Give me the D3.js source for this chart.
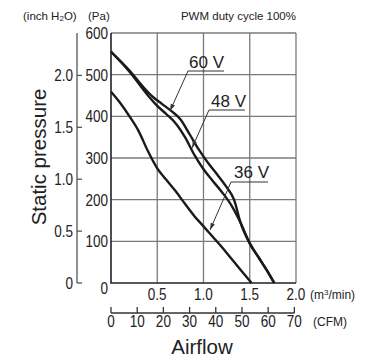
<!DOCTYPE html>
<html>
<head>
<meta charset="utf-8">
<script src="https://cdn.jsdelivr.net/npm/d3@7"></script>
<style>
  body { margin: 0; background: #fff; }
  svg text { fill: #222; }
</style>
</head>
<body>
<div class="board"></div>
<script>
//Data: [m3/min, Pa]
var curve60 = [[0,555],[0.2,510],[0.35,470],[0.45,447],[0.55,430],[0.65,413],[0.75,393],[0.85,357],[0.95,320],[1.05,288],[1.15,260],[1.25,230],[1.33,200],[1.4,145],[1.5,95],[1.6,60],[1.7,25],[1.765,0]];
var curve48 = [[0,555],[0.2,507],[0.4,450],[0.5,425],[0.6,405],[0.7,383],[0.8,350],[0.9,308],[1.0,273],[1.1,245],[1.2,218],[1.3,187],[1.4,145],[1.5,95],[1.6,60],[1.7,25],[1.765,0]];
var curve36 = [[0,459],[0.1,432],[0.2,400],[0.3,364],[0.4,316],[0.5,275],[0.6,247],[0.7,220],[0.8,190],[0.9,161],[1.0,136],[1.1,111],[1.2,86],[1.3,59],[1.4,32],[1.52,0]];
var voltages = ['60 V', '48 V', '36 V'];

//Tick labels
var paTicks = [100, 200, 300, 400, 500, 600];
var inchTicks = [0, 0.5, 1.0, 1.5, 2.0];
var flowTicks = [0.5, 1.0, 1.5, 2.0];
var cfmTicks = [0, 10, 20, 30, 40, 50, 60, 70];

var PA_PER_INCH = 249.089;
var CFM_PER_M3 = 35.3147;

var sans = '"Liberation Sans", Arial, sans-serif';
var squeeze = 0.82; //condensed look for tick numbers

var svg = d3.select('.board').append('svg')
            .attr('width', 369)
            .attr('height', 363);

var x = d3.scaleLinear().domain([0, 2]).range([111, 296]);
var y = d3.scaleLinear().domain([0, 600]).range([283, 33]);

//condensed number label
var num = function(sel, fx, fy, fmt, anchor) {
  return sel.append('text')
            .attr('transform', d => 'translate(' + fx(d) + ',' + fy(d) + ') scale(' + squeeze + ',1)')
            .attr('text-anchor', anchor)
            .style('font-family', sans).style('font-size', '16.5px')
            .text(fmt);
};

//Grid
svg.append('g').selectAll('line')
   .data(paTicks)
   .enter().append('line')
   .attr('x1', x(0)).attr('x2', x(2))
   .attr('y1', d => y(d)).attr('y2', d => y(d))
   .attr('stroke', '#7a7a7a').attr('stroke-width', 1.3);
svg.append('g').selectAll('line')
   .data(flowTicks)
   .enter().append('line')
   .attr('x1', d => x(d)).attr('x2', d => x(d))
   .attr('y1', y(0)).attr('y2', y(600))
   .attr('stroke', '#7a7a7a').attr('stroke-width', 1.3);

//Main axes lines (left + bottom)
svg.append('path')
   .attr('d', 'M' + x(0) + ',' + y(600) + 'V' + y(0) + 'H' + x(2))
   .attr('fill', 'none').attr('stroke', '#222').attr('stroke-width', 1.6);

//Pa labels
num(svg.append('g').selectAll('text').data(paTicks).enter(),
    d => x(0) - 3, d => y(d) + 6, d => d, 'end');
num(svg.append('g').selectAll('text').data([0]).enter(),
    d => x(0) - 3, d => y(0) + 11, d => d, 'end');

//Inch H2O axis
var yIn = d => y(d * PA_PER_INCH);
svg.append('line')
   .attr('x1', 77).attr('x2', 77)
   .attr('y1', y(0)).attr('y2', y(600))
   .attr('stroke', '#555').attr('stroke-width', 1.3);
svg.append('g').selectAll('line')
   .data(inchTicks)
   .enter().append('line')
   .attr('x1', 77).attr('x2', 82)
   .attr('y1', yIn).attr('y2', yIn)
   .attr('stroke', '#555').attr('stroke-width', 1.3);
num(svg.append('g').selectAll('text').data(inchTicks).enter(),
    d => 73, d => yIn(d) + 6, d => d === 0 ? '0' : d.toFixed(1), 'end');

//Flow labels
num(svg.append('g').selectAll('text').data(flowTicks).enter(),
    d => x(d), d => 300, d => d.toFixed(1), 'middle');
var unitM = svg.append('text')
   .attr('x', 310).attr('y', 299)
   .style('font-family', sans).style('font-size', '12px');
unitM.append('tspan').text('(m');
unitM.append('tspan').attr('dy', -4).style('font-size', '8px').text('3');
unitM.append('tspan').attr('dy', 4).text('/min)');

//CFM axis
var xc = d => x(d / CFM_PER_M3);
svg.append('line')
   .attr('x1', x(0)).attr('x2', xc(70))
   .attr('y1', 313).attr('y2', 313)
   .attr('stroke', '#333').attr('stroke-width', 1.3);
svg.append('g').selectAll('line')
   .data(cfmTicks)
   .enter().append('line')
   .attr('x1', xc).attr('x2', xc)
   .attr('y1', 313).attr('y2', 307)
   .attr('stroke', '#333').attr('stroke-width', 1.3);
num(svg.append('g').selectAll('text').data(cfmTicks).enter(),
    xc, d => 327, d => d, 'middle');
svg.append('text')
   .attr('x', 313).attr('y', 326)
   .style('font-family', sans).style('font-size', '12px')
   .text('(CFM)');

//Titles
svg.append('text')
   .attr('x', 202).attr('y', 354)
   .attr('text-anchor', 'middle')
   .style('font-family', sans).style('font-size', '20.5px')
   .text('Airflow');
svg.append('text')
   .attr('transform', 'translate(46,157) rotate(-90)')
   .attr('text-anchor', 'middle')
   .style('font-family', sans).style('font-size', '20.5px')
   .text('Static pressure');

var inch = svg.append('text')
   .attr('x', 23).attr('y', 20)
   .style('font-family', sans).style('font-size', '11.5px');
inch.append('tspan').text('(inch H');
inch.append('tspan').style('font-size', '8px').attr('dy', 1).text('2');
inch.append('tspan').attr('dy', -1).text('O)');
svg.append('text')
   .attr('x', 88).attr('y', 20)
   .style('font-family', sans).style('font-size', '11.5px')
   .text('(Pa)');
svg.append('text')
   .attr('x', 296).attr('y', 20)
   .attr('text-anchor', 'end')
   .style('font-family', sans).style('font-size', '11.5px')
   .text('PWM duty cycle 100%');

//Curves
var line = d3.line()
             .x(d => x(d[0]))
             .y(d => y(d[1]))
             .curve(d3.curveMonotoneX);
svg.append('g').selectAll('path')
   .data([curve60, curve48, curve36])
   .enter().append('path')
   .attr('d', line)
   .attr('fill', 'none')
   .attr('stroke', '#1a1a1a')
   .attr('stroke-width', 2.4);

//Labels with leaders: text pos, underline, arrow tip
var labelPos = [
  {tx: 189, ty: 68, ux1: 188, ux2: 224, uy: 71, px: 170, py: 111},
  {tx: 211, ty: 107, ux1: 209, ux2: 245, uy: 110, px: 192, py: 148},
  {tx: 234, ty: 178, ux1: 231, ux2: 268, uy: 182, px: 210, py: 230}
];
labelPos.forEach(function(p, i) {
  svg.append('text')
     .attr('x', p.tx).attr('y', p.ty)
     .style('font-family', sans).style('font-size', '17px')
     .text(voltages[i]);
  svg.append('path')
     .attr('d', 'M' + p.ux2 + ',' + p.uy + 'H' + p.ux1 + 'L' + p.px + ',' + p.py)
     .attr('fill', 'none').attr('stroke', '#333').attr('stroke-width', 1);
  var a = Math.atan2(p.py - p.uy, p.px - p.ux1);
  var L = 7, W = 2.2;
  var bx = p.px - L * Math.cos(a), by = p.py - L * Math.sin(a);
  svg.append('path')
     .attr('d', 'M' + p.px + ',' + p.py +
                'L' + (bx + W * Math.sin(a)) + ',' + (by - W * Math.cos(a)) +
                'L' + (bx - W * Math.sin(a)) + ',' + (by + W * Math.cos(a)) + 'Z')
     .attr('fill', '#333');
});
</script>
</body>
</html>
